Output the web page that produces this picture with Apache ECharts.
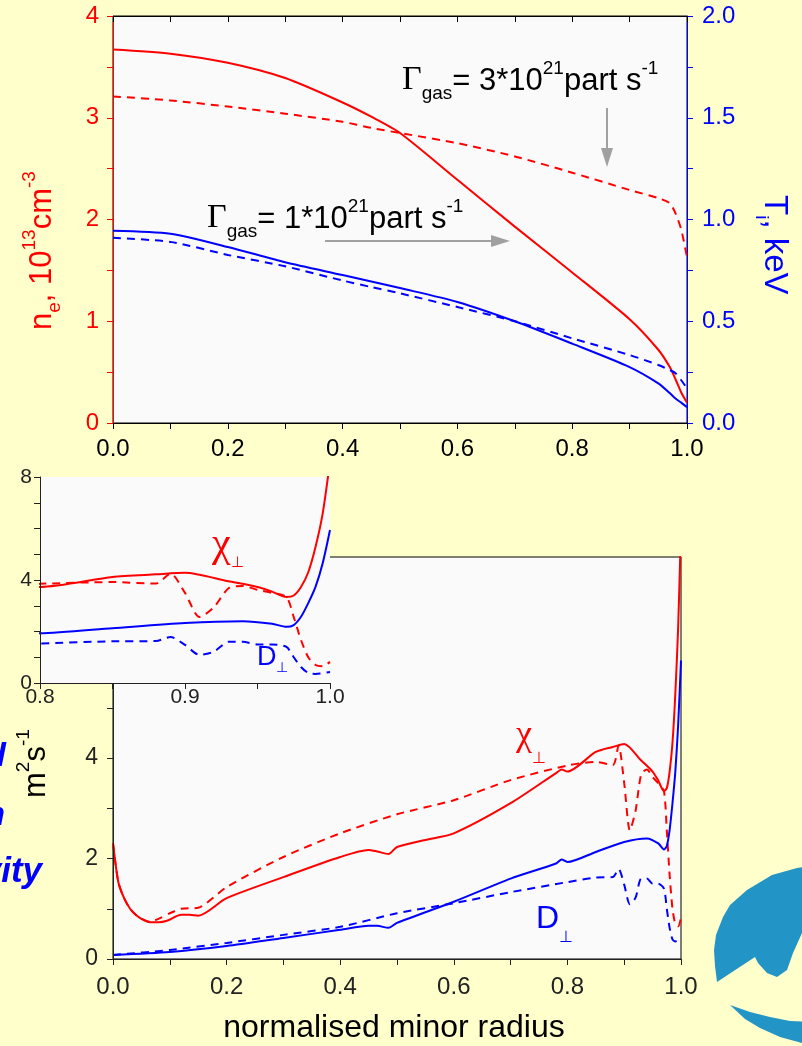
<!DOCTYPE html>
<html>
<head>
<meta charset="utf-8">
<script src="https://cdn.jsdelivr.net/npm/echarts@6/dist/echarts.min.js"></script>
<style>
  html, body { margin: 0; padding: 0; background: #ffffcc; }
  #chart { width: 802px; height: 1046px; }
</style>
</head>
<body>
<div id="chart"></div>
<script>
  // top panel: density (left axis) and ion temperature (right axis)
  const topX     = [0, 0.1, 0.2, 0.3, 0.4, 0.45, 0.5, 0.6, 0.7, 0.8, 0.9, 0.95, 0.97, 0.98, 0.99, 1.0];
  const neSolid  = [3.67, 3.63, 3.54, 3.39, 3.15, 3.01, 2.85, 2.39, 1.93, 1.48, 1.02, 0.72, 0.55, 0.43, 0.30, 0.20];
  const neDashed = [3.21, 3.17, 3.11, 3.04, 2.96, 2.90, 2.85, 2.75, 2.62, 2.46, 2.29, 2.21, 2.16, 2.06, 1.90, 1.63];
  const tiSolid  = [0.945, 0.93, 0.865, 0.79, 0.727, 0.695, 0.663, 0.595, 0.50, 0.39, 0.275, 0.195, 0.147, 0.12, 0.10, 0.077];
  const tiDashed = [0.91, 0.89, 0.826, 0.77, 0.70, 0.668, 0.637, 0.57, 0.50, 0.416, 0.334, 0.285, 0.26, 0.245, 0.21, 0.17];

  // bottom panel: transport coefficients (the inset shows the same curves)
  const chiSolidX = [0, 0.005, 0.01, 0.02, 0.03, 0.04, 0.05, 0.065, 0.08, 0.095, 0.12, 0.135, 0.15, 0.2, 0.3, 0.4, 0.45, 0.465, 0.485, 0.5, 0.55, 0.6, 0.7, 0.78, 0.79, 0.8, 0.85, 0.88, 0.9, 0.93, 0.95, 0.96, 0.97, 0.975, 0.98, 0.985, 0.99, 0.995, 1.0];
  const chiSolid  = [2.3, 1.85, 1.5, 1.2, 1.0, 0.88, 0.8, 0.73, 0.73, 0.76, 0.88, 0.88, 0.86, 1.21, 1.63, 2.03, 2.17, 2.14, 2.09, 2.23, 2.37, 2.5, 3.1, 3.7, 3.77, 3.73, 4.12, 4.22, 4.28, 3.95, 3.73, 3.55, 3.34, 3.4, 3.73, 4.3, 5.28, 6.6, 8.6];
  const chiDashX  = [0, 0.005, 0.01, 0.02, 0.03, 0.04, 0.05, 0.065, 0.08, 0.1, 0.12, 0.15, 0.2, 0.3, 0.4, 0.5, 0.6, 0.7, 0.8, 0.85, 0.88, 0.89, 0.9, 0.91, 0.92, 0.93, 0.94, 0.95, 0.96, 0.97, 0.975, 0.98, 0.985, 0.99, 0.995, 1.0];
  const chiDash   = [2.3, 1.85, 1.5, 1.2, 1.0, 0.88, 0.8, 0.74, 0.8, 0.91, 1.0, 1.02, 1.43, 2.03, 2.5, 2.88, 3.16, 3.56, 3.85, 3.92, 3.86, 4.25, 3.5, 2.56, 2.95, 3.68, 3.77, 3.62, 3.5, 3.34, 2.56, 1.67, 1.0, 0.7, 0.65, 0.82];
  const dSolidX   = [0, 0.1, 0.2, 0.3, 0.4, 0.45, 0.465, 0.485, 0.5, 0.6, 0.7, 0.78, 0.79, 0.8, 0.85, 0.9, 0.94, 0.96, 0.97, 0.975, 0.98, 0.985, 0.99, 0.995, 1.0];
  const dSolid    = [0.08, 0.14, 0.26, 0.42, 0.58, 0.66, 0.66, 0.62, 0.72, 1.14, 1.6, 1.9, 1.98, 1.93, 2.13, 2.33, 2.4, 2.3, 2.18, 2.25, 2.57, 3.1, 3.73, 4.66, 5.94];
  const dDashX    = [0, 0.1, 0.2, 0.3, 0.4, 0.5, 0.6, 0.7, 0.8, 0.85, 0.88, 0.89, 0.9, 0.91, 0.92, 0.93, 0.94, 0.95, 0.96, 0.97, 0.975, 0.98, 0.985, 0.99, 1.0];
  const dDash     = [0.08, 0.18, 0.32, 0.48, 0.64, 0.91, 1.11, 1.33, 1.53, 1.62, 1.63, 1.79, 1.48, 1.09, 1.22, 1.6, 1.6, 1.5, 1.5, 1.4, 1.0, 0.62, 0.39, 0.35, 0.43];

  const RED = '#ff0000', BLUE = '#0000ff';
  const FONT = 'Liberation Sans, Arial, sans-serif';
  const SERIF = 'Liberation Serif, Times New Roman, serif';
  const pairs = (xs, ys) => xs.map((x, i) => [x, ys[i]]);
  const fmt1 = v => v.toFixed(1);

  function line(name, data, color, dashed, xi, yi, z) {
    return {
      name: name, type: 'line', data: data, xAxisIndex: xi, yAxisIndex: yi,
      showSymbol: false, smooth: 0.25, z: z || 2,
      lineStyle: { color: color, width: 2, type: dashed ? [8, 6] : 'solid' }
    };
  }

  function valAxis(o) {
    const c = o.color || '#000';
    return Object.assign({
      type: 'value', splitLine: { show: false },
      axisLine: { show: true, onZero: false, lineStyle: { color: c, width: 1 } },
      axisTick: { show: true, length: 6, lineStyle: { color: c } },
      minorTick: { show: true, splitNumber: o.minor || 2, length: 6, lineStyle: { color: c } },
      axisLabel: { color: c, fontSize: o.fs || 24, fontFamily: FONT, margin: o.margin || 12,
                   formatter: o.fmt || (v => String(Math.round(v))) }
    }, o.extra);
  }

  // text with sub/superscripts: pieces are [text, fontSize, baseline shift, family]
  const meas = document.createElement('canvas').getContext('2d');
  function sciText(pieces, x, y, color, rotation) {
    let cx = 0;
    const kids = pieces.map(p => {
      const font = p[1] + 'px ' + (p[3] || FONT);
      meas.font = font;
      const el = { type: 'text', x: cx, y: p[2] - 0.34 * p[1], z: 60,
                   style: { text: p[0], font: font, fill: color, align: 'left', verticalAlign: 'middle' } };
      cx += meas.measureText(p[0]).width;
      return el;
    });
    return { type: 'group', x: x, y: y, rotation: rotation || 0, z: 60, children: kids };
  }

  const gas = n => [['Γ', 34, 0, SERIF], ['gas', 19, 8], ['= ' + n + '*10', 31, 0], ['21', 19, -17], ['part s', 31, 0], ['-1', 19, -17]];

  const chart = echarts.init(document.getElementById('chart'));
  chart.setOption({
    backgroundColor: '#ffffcc',
    animation: false,
    grid: [
      { left: 113, top: 16, width: 574, height: 407, show: true, backgroundColor: '#fafafa', borderColor: '#000', borderWidth: 1 },
      { left: 113, top: 557, width: 568, height: 402, show: true, backgroundColor: '#fafafa', borderColor: '#000', borderWidth: 1 },
      { left: 40, top: 477, width: 290, height: 206, show: true, backgroundColor: '#fafafa', borderWidth: 0, z: 10 }
    ],
    xAxis: [
      valAxis({ fmt: fmt1, margin: 14, extra: { gridIndex: 0, min: 0, max: 1, interval: 0.2, position: 'bottom' } }),
      valAxis({ extra: { gridIndex: 0, min: 0, max: 1, interval: 0.2, position: 'top',
                axisTick: { show: true, inside: true, length: 6, lineStyle: { color: '#000' } },
                minorTick: { show: true, splitNumber: 2, length: 6, lineStyle: { color: '#000' } },
                axisLabel: { show: false } } }),
      valAxis({ fmt: fmt1, margin: 16, color: '#222', extra: { gridIndex: 1, min: 0, max: 1, interval: 0.2, z: 3 } }),
      valAxis({ fmt: fmt1, fs: 21, margin: 4, color: '#222', extra: { gridIndex: 2, min: 0.8, max: 1.0, interval: 0.1, z: 12 } })
    ],
    yAxis: [
      valAxis({ color: RED, margin: 14, extra: { gridIndex: 0, min: 0, max: 4, interval: 1, position: 'left' } }),
      valAxis({ color: BLUE, fmt: fmt1, margin: 15, extra: { gridIndex: 0, min: 0, max: 2, interval: 0.5, position: 'right' } }),
      valAxis({ color: '#222', fs: 23, margin: 15, extra: { gridIndex: 1, min: 0, max: 8, interval: 2, z: 3 } }),
      valAxis({ color: '#222', fs: 21, margin: 8, minor: 4, extra: { gridIndex: 2, min: 0, max: 8, interval: 4, z: 12 } })
    ],
    series: [
      line('ne low', pairs(topX, neSolid), RED, false, 0, 0),
      line('ne high', pairs(topX, neDashed), RED, true, 0, 0),
      line('Ti low', pairs(topX, tiSolid), BLUE, false, 0, 1),
      line('Ti high', pairs(topX, tiDashed), BLUE, true, 0, 1),

      line('chi low', pairs(chiSolidX, chiSolid), RED, false, 2, 2),
      line('chi high', pairs(chiDashX, chiDash), RED, true, 2, 2),
      line('D low', pairs(dSolidX, dSolid), BLUE, false, 2, 2),
      line('D high', pairs(dDashX, dDash), BLUE, true, 2, 2),

      line('chi low inset', pairs(chiSolidX, chiSolid), RED, false, 3, 3, 11),
      line('chi high inset', pairs(chiDashX, chiDash), RED, true, 3, 3, 11),
      line('D low inset', pairs(dSolidX, dSolid), BLUE, false, 3, 3, 11),
      line('D high inset', pairs(dDashX, dDash), BLUE, true, 3, 3, 11)
    ],
    graphic: [
      sciText(gas('3'), 402, 92, '#000'),
      sciText(gas('1'), 207, 230, '#000'),
      // arrows
      { type: 'line', z: 50, shape: { x1: 607, y1: 108, x2: 607, y2: 152 }, style: { stroke: '#a0a0a0', lineWidth: 2 } },
      { type: 'polygon', z: 50, shape: { points: [[601, 148], [613, 148], [607, 167]] }, style: { fill: '#a0a0a0' } },
      { type: 'line', z: 50, shape: { x1: 325, y1: 241, x2: 494, y2: 241 }, style: { stroke: '#a0a0a0', lineWidth: 2 } },
      { type: 'polygon', z: 50, shape: { points: [[491, 235], [491, 247], [510, 241]] }, style: { fill: '#a0a0a0' } },

      // axis titles
      sciText([['n', 31, 0], ['e', 19, 8], [', 10', 31, 0], ['13', 19, -17], ['cm', 31, 0], ['-3', 19, -17]], 53, 330, RED, Math.PI / 2),
      sciText([['T', 33, 0], ['i', 19, 8], [', keV', 33, 0]], 763, 195, BLUE, -Math.PI / 2),
      sciText([['m', 31, 0], ['2', 19, -17], ['s', 31, 0], ['-1', 19, -17]], 47, 798, '#000', Math.PI / 2),
      { type: 'text', x: 394, y: 1028, z: 50,
        style: { text: 'normalised minor radius', font: '32px ' + FONT, fill: '#000', align: 'center', verticalAlign: 'middle' } },

      // curve labels
      sciText([['χ', 36, 0, SERIF], ['⊥', 16, 16]], 516, 748, RED),
      sciText([['D', 32, 0], ['⊥', 16, 13]], 536, 930, BLUE),
      sciText([['χ', 42, 0, SERIF], ['⊥', 15, 9]], 212, 559, RED),
      sciText([['D', 27, 0], ['⊥', 14, 6]], 257, 667, BLUE),

      // cut-off side text
      { type: 'text', x: 6, y: 774, z: 50, style: { text: 'model', font: 'italic bold 34px ' + FONT, fill: BLUE, align: 'right', verticalAlign: 'bottom' } },
      { type: 'text', x: 5, y: 833, z: 50, style: { text: 'diffusion', font: 'italic bold 34px ' + FONT, fill: BLUE, align: 'right', verticalAlign: 'bottom' } },
      { type: 'text', x: 42, y: 890, z: 50, style: { text: 'diffusivity', font: 'italic bold 35px ' + FONT, fill: BLUE, align: 'right', verticalAlign: 'bottom' } },

      // logo
      { type: 'polygon', z: 50, shape: { points: [[812, 866], [797, 868], [772, 875], [747, 890], [730, 905], [723, 917], [716, 935], [714, 950], [715, 966], [717, 982], [755, 957], [758, 963], [767, 973], [777, 977], [787, 970], [793, 953], [802, 933], [812, 918]] }, style: { fill: '#2394c6' } },
      { type: 'polygon', z: 50, shape: { points: [[730, 1005], [745, 1019], [760, 1028], [780, 1037], [802, 1043], [812, 1044], [812, 1022], [790, 1021], [770, 1017], [750, 1012]] }, style: { fill: '#2394c6' } }
    ]
  });
</script>
</body>
</html>
